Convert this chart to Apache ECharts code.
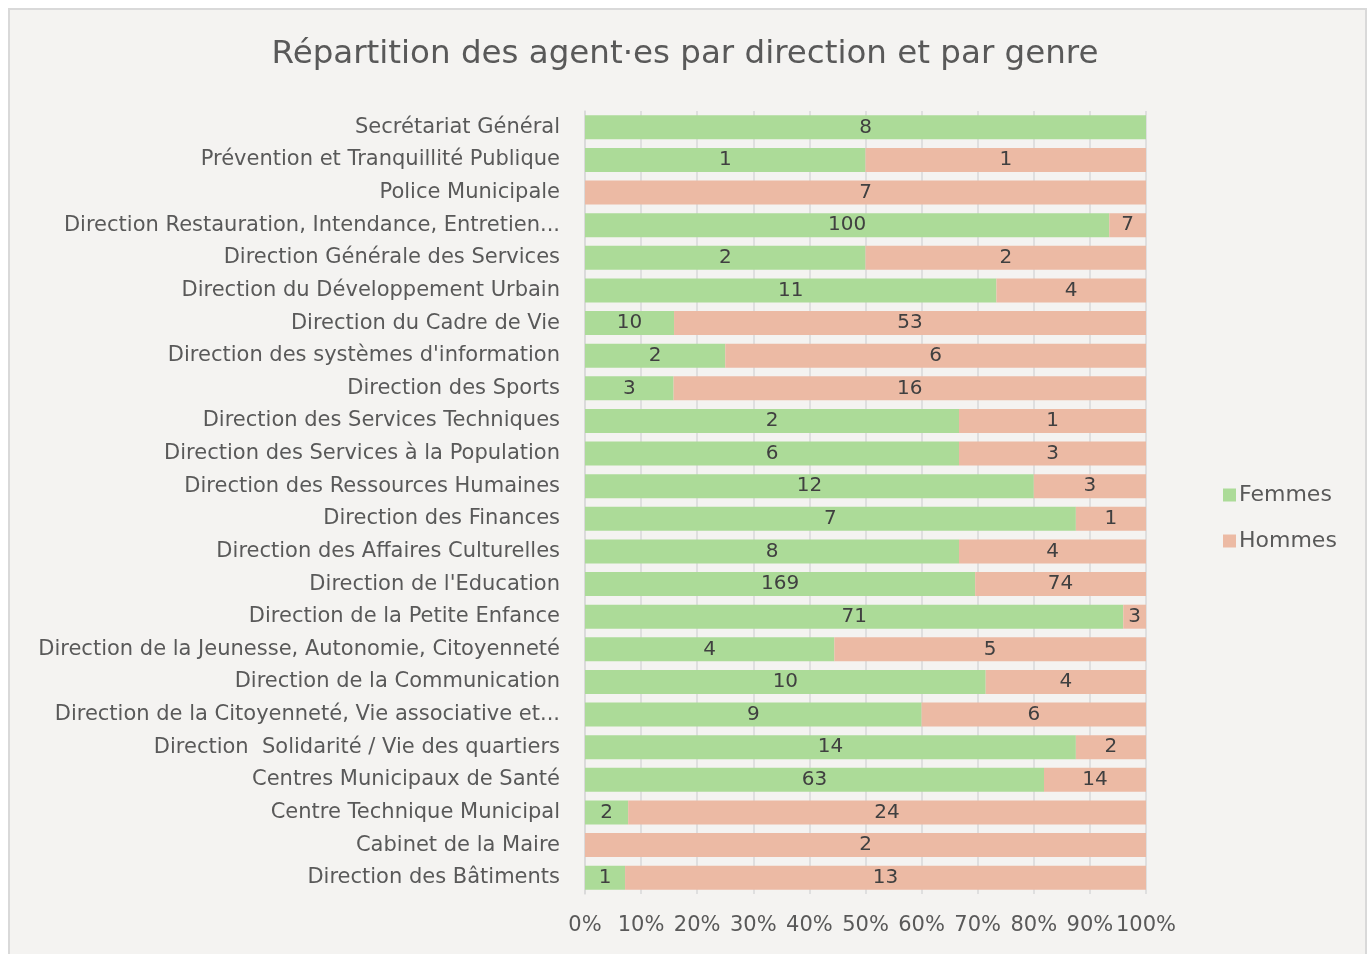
<!DOCTYPE html>
<html>
<head>
<meta charset="utf-8">
<script src="https://cdn.jsdelivr.net/npm/echarts@6/dist/echarts.min.js"></script>
<style>
  html, body { margin: 0; padding: 0; background: #ffffff; }
  #chart { width: 1370px; height: 954px; }
</style>
</head>
<body>
<div id="chart"></div>
<script>
// directions, du haut vers le bas
const directions = [
  "Secrétariat Général",
  "Prévention et Tranquillité Publique",
  "Police Municipale",
  "Direction Restauration, Intendance, Entretien...",
  "Direction Générale des Services",
  "Direction du Développement Urbain",
  "Direction du Cadre de Vie",
  "Direction des systèmes d'information",
  "Direction des Sports",
  "Direction des Services Techniques",
  "Direction des Services à la Population",
  "Direction des Ressources Humaines",
  "Direction des Finances",
  "Direction des Affaires Culturelles",
  "Direction de l'Education",
  "Direction de la Petite Enfance",
  "Direction de la Jeunesse, Autonomie, Citoyenneté",
  "Direction de la Communication",
  "Direction de la Citoyenneté, Vie associative et...",
  "Direction  Solidarité / Vie des quartiers",
  "Centres Municipaux de Santé",
  "Centre Technique Municipal",
  "Cabinet de la Maire",
  "Direction des Bâtiments"
];
const femmes = [8, 1, 0, 100, 2, 11, 10, 2, 3, 2, 6, 12, 7, 8, 169, 71, 4, 10, 9, 14, 63, 2, 0, 1];
const hommes = [0, 1, 7, 7, 2, 4, 53, 6, 16, 1, 3, 3, 1, 4, 74, 3, 5, 4, 6, 2, 14, 24, 2, 13];
const xTicks = [0, 10, 20, 30, 40, 50, 60, 70, 80, 90, 100];

const colors = ["#acdb98", "#ecbaa4"];
const txt = "#595959";
const font = "DejaVu Sans";

function pct(arr, i) {
  const total = femmes[i] + hommes[i];
  return total ? (arr[i] / total) * 100 : 0;
}

function serie(name, arr) {
  return {
    name: name,
    type: "bar",
    stack: "total",
    barWidth: 24,
    data: arr.map((v, i) => ({ value: pct(arr, i), count: v })),
    label: {
      show: true,
      position: "inside",
      color: "#404040",
      fontFamily: font,
      fontSize: 20,
      formatter: p => (p.data.count ? String(p.data.count) : "")
    }
  };
}

const dom = echarts.init(document.getElementById("chart"));
dom.setOption({
  animation: false,
  backgroundColor: "#ffffff",
  color: colors,
  graphic: [
    {
      type: "rect",
      shape: { x: 9, y: 9, width: 1357, height: 960 },
      style: { fill: "#f4f3f1", stroke: "#d9d9d9", lineWidth: 2 },
      z: -10
    }
  ],
  title: {
    text: "Répartition des agent·es par direction et par genre",
    left: "center",
    top: 33,
    textStyle: { fontFamily: font, fontSize: 32.5, fontWeight: "normal", color: txt }
  },
  legend: {
    orient: "vertical",
    left: 1218,
    top: 479,
    itemWidth: 13,
    itemHeight: 13,
    itemGap: 24,
    icon: "rect",
    data: ["Femmes", "Hommes"],
    textStyle: { fontFamily: font, fontSize: 22, color: txt, padding: [0, 0, 0, -2] }
  },
  grid: { left: 585, right: 224, top: 111, bottom: 60, containLabel: false },
  xAxis: {
    type: "value",
    min: xTicks[0],
    max: xTicks[xTicks.length - 1],
    interval: 10,
    axisLine: { show: false },
    axisTick: { show: false },
    splitLine: { show: true, lineStyle: { color: "#d9d9d9", width: 1.5 } },
    axisLabel: {
      margin: 21,
      fontFamily: font,
      fontSize: 21,
      color: txt,
      formatter: "{value}%"
    }
  },
  yAxis: {
    type: "category",
    inverse: true,
    data: directions,
    axisLine: { show: true, lineStyle: { color: "#d9d9d9", width: 1.5 } },
    axisTick: { show: false },
    axisLabel: { margin: 25, fontFamily: font, fontSize: 21, color: txt }
  },
  series: [serie("Femmes", femmes), serie("Hommes", hommes)]
});
</script>
</body>
</html>
